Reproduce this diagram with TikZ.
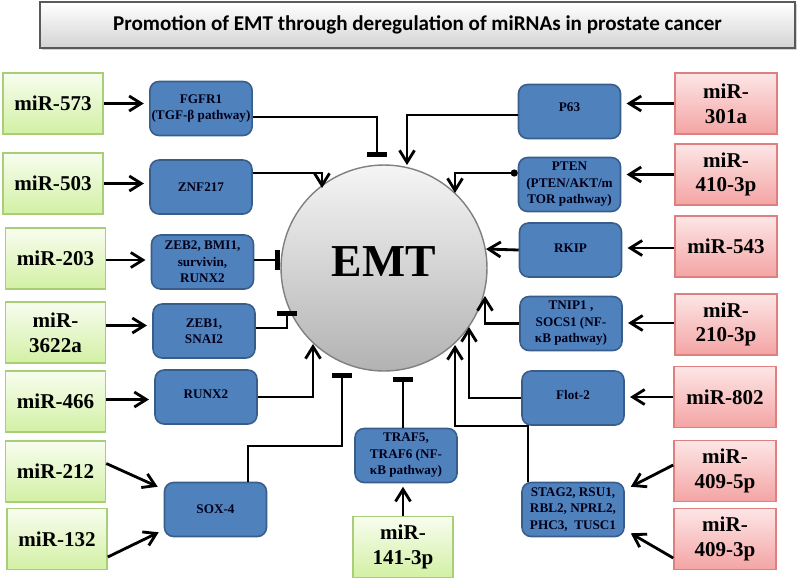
\documentclass[tikz,border=0pt]{standalone}
\usepackage{fontspec}
\setmainfont{Liberation Serif}
\newfontfamily\titlefont{Carlito}
\usetikzlibrary{arrows.meta,calc,shadows}
\definecolor{gtop}{HTML}{F8FDEF}
\definecolor{gbot}{HTML}{D2F0A4}
\definecolor{gdraw}{HTML}{A8CF78}
\definecolor{rtop}{HTML}{FDE6E6}
\definecolor{rbot}{HTML}{F4A4A4}
\definecolor{rdraw}{HTML}{DE8080}
\definecolor{bfill}{HTML}{4F81BD}
\definecolor{bdraw}{HTML}{385D8A}
\tikzset{
  gbox/.style={draw=gdraw, line width=0.9pt, top color=gtop, bottom color=gbot,
    minimum width=2cm, minimum height=1.22cm, align=center, inner sep=1pt,
    font=\fontsize{12}{14}\selectfont\bfseries},
  rbox/.style={draw=rdraw, line width=0.9pt, top color=rtop, bottom color=rbot,
    minimum width=2.04cm, minimum height=1.22cm, align=center, inner sep=1pt,
    font=\fontsize{12}{14}\selectfont\bfseries},
  bbox/.style={draw=bdraw, line width=0.9pt, fill=bfill, rounded corners=0.18cm,
    minimum width=2.04cm, minimum height=1.08cm, align=center, inner sep=1pt,
    font=\fontsize{7.5}{9.4}\selectfont\bfseries, text=black!90!blue},
  act/.style={line width=1.6pt, -{Straight Barb[length=2.4mm,width=3mm]}},
  inh/.style={line width=1.6pt, -{Bar[width=4mm,line width=2.6pt]}},
}
\begin{document}
\begin{tikzpicture}[x=0.02cm,y=-0.02cm]
\useasboundingbox (0,0) rectangle (797,582);

% title
\node[draw=black!65, line width=0.9pt, top color=white, bottom color=black!17,
  drop shadow={shadow xshift=0.04cm, shadow yshift=-0.04cm, opacity=0.35},
  minimum width=15.1cm, minimum height=0.92cm, inner sep=0pt,
  font=\titlefont\fontsize{12}{14}\selectfont\bfseries]
  (title) at (417.5,25) {Promotion of EMT through deregulation of miRNAs in prostate cancer};

% EMT circle
\node[circle, draw=black!50, line width=0.8pt, top color=black!4, bottom color=black!30,
  minimum size=4.12cm, inner sep=0pt, font=\fontsize{26}{28}\selectfont\bfseries]
  (EMT) at (384,268) {};
\node[font=\fontsize{26}{28}\selectfont\bfseries] (emtlabel) at (384,262) {EMT};

% green boxes
\node[gbox] (g573) at (53,103.5) {miR-573};
\node[gbox] (g503) at (53,183.5) {miR-503};
\node[gbox] (g203) at (55.5,258.5) {miR-203};
\node[gbox] (g3622) at (55.5,332.5) {miR-\\3622a};
\node[gbox] (g466) at (55.5,401.5) {miR-466};
\node[gbox] (g212) at (55.5,471.5) {miR-212};
\node[gbox] (g132) at (57,539) {miR-132};
\node[gbox] (g141) at (403,547) {miR-\\141-3p};

% red boxes
\node[rbox] (r301) at (726,103.5) {miR-\\301a};
\node[rbox] (r410) at (726,174.5) {miR-\\410-3p};
\node[rbox] (r543) at (726,246.5) {miR-543};
\node[rbox] (r210) at (726,324.5) {miR-\\210-3p};
\node[rbox] (r802) at (725,397) {miR-802};
\node[rbox] (r4095) at (725,471) {miR-\\409-5p};
\node[rbox] (r4093) at (725,539) {miR-\\409-3p};

% blue boxes
\node[bbox] (FGFR1) at (201,108.5) {FGFR1\\(TGF-β pathway)};
\node[bbox] (ZNF) at (201,187) {ZNF217};
\node[bbox] (ZEB2) at (202.5,262) {ZEB2, BMI1,\\survivin,\\RUNX2};
\node[bbox] (ZEB1) at (204,331) {ZEB1,\\SNAI2};
\node[bbox] (RUNX2) at (206,397) {\raisebox{0.1cm}{RUNX2}};
\node[bbox] (SOX4) at (215.5,509.5) {SOX-4};
\node[bbox] (TRAF) at (406,455.5) {TRAF5,\\TRAF6 (NF-\\κB pathway)};
\node[bbox] (P63) at (569.5,111.5) {\raisebox{0.16cm}{P63}};
\node[bbox] (PTEN) at (569.5,184.5) {PTEN\\(PTEN/AKT/m\\TOR pathway)};
\node[bbox] (RKIP) at (570.5,250) {\raisebox{0.06cm}{RKIP}};
\node[bbox] (TNIP) at (571,323.5) {TNIP1 ,\\SOCS1 (NF-\\κB pathway)};
\node[bbox] (FLOT) at (573,398) {\raisebox{0.12cm}{Flot-2}};
\node[bbox] (STAG) at (573,509.5) {STAG2, RSU1,\\RBL2, NPRL2,\\PHC3,\ \ TUSC1};

% free ends at EMT
\coordinate (t1) at (377,157);
\coordinate (t2) at (322,188);
\coordinate (t3) at (280,260);
\coordinate (t4) at (287,311);
\coordinate (t5) at (313,344);
\coordinate (t6) at (342,373);
\coordinate (t7) at (403,377);
\coordinate (a1) at (407,165);
\coordinate (a2) at (455,193);
\coordinate (a3) at (486,249);
\coordinate (a4) at (485,296);
\coordinate (a5) at (469,327);
\coordinate (a6) at (455,345);

% miRNA -> targets (left)
\draw[act, shorten >=3pt] (g573.east) -- (g573.east -| FGFR1.west);
\draw[act, shorten >=3pt] (g503.east) -- (g503.east -| ZNF.west);
\draw[act, shorten >=3pt] ($(g203.east)+(0,1.5)$) -- ($(g203.east -| ZEB2.west)+(0,1.5)$);
\draw[act, shorten >=3pt] ($(g3622.east)+(0,-7)$) -- ($(g3622.east -| ZEB1.west)+(0,-7)$);
\draw[act, shorten >=3pt] ($(g466.east)+(0,-2)$) -- ($(g466.east -| RUNX2.west)+(0,-2)$);
\draw[act] ($(g212.east)+(0,-8)$) -- ($(SOX4.north west)+(-6,5)$);
\draw[act] ($(g132.east)+(0,18)$) -- ($(SOX4.south west)+(-5,-5)$);
\draw[act, shorten >=2pt] (g141.north) -- (g141.north |- TRAF.south);

% targets -> EMT (left)
\draw[inh] ($(FGFR1.east)+(0,8.5)$) -| (t1);
\draw[act] ($(ZNF.east)+(0,-14)$) -| (t2);
\draw[inh] ($(ZEB2.east)+(0,-2)$) -- (t3);
\draw[inh] ($(ZEB1.east)+(0,-3)$) -| (t4);
\draw[act] (RUNX2.east) -| (t5);
\draw[inh] ($(SOX4.north)+(32.5,0)$) |- ($(t6)+(0,73)$) -- (t6);
\draw[inh] (TRAF.north -| t7) -- (t7);

% miRNA -> targets (right)
\draw[act, shorten >=3pt] (r301.west) -- (r301.west -| P63.east);
\draw[act, shorten >=3pt] (r410.west) -- (r410.west -| PTEN.east);
\draw[act, shorten >=3pt] ($(r543.west)+(0,1.5)$) -- ($(r543.west -| RKIP.east)+(0,1.5)$);
\draw[act, shorten >=3pt] ($(r210.west)+(0,-1.5)$) -- ($(r210.west -| TNIP.east)+(0,-1.5)$);
\draw[act, shorten >=3pt] (r802.west) -- (r802.west -| FLOT.east);
\draw[act] ($(r4095.west)+(0,-6)$) -- ($(STAG.north east)+(6,5)$);
\draw[act] ($(r4093.west)+(0,19)$) -- ($(STAG.south east)+(6,-4)$);

% targets -> EMT (right)
\draw[act] ($(P63.west)+(0,3.5)$) -| (a1);
\draw[line width=1.6pt, {Circle[length=4pt]}-{Straight Barb[length=2.4mm,width=3mm]}] ($(PTEN.west)+(0,-11.5)$) -| (a2);
\draw[act] (RKIP.west) -- (a3);
\draw[act] (TNIP.west) -| (a4);
\draw[act] (FLOT.west) -| (a5);
\draw[act] ($(STAG.north)+(-45,0)$) |- ($(a6)+(0,81)$) -- (a6);
\end{tikzpicture}
\end{document}
